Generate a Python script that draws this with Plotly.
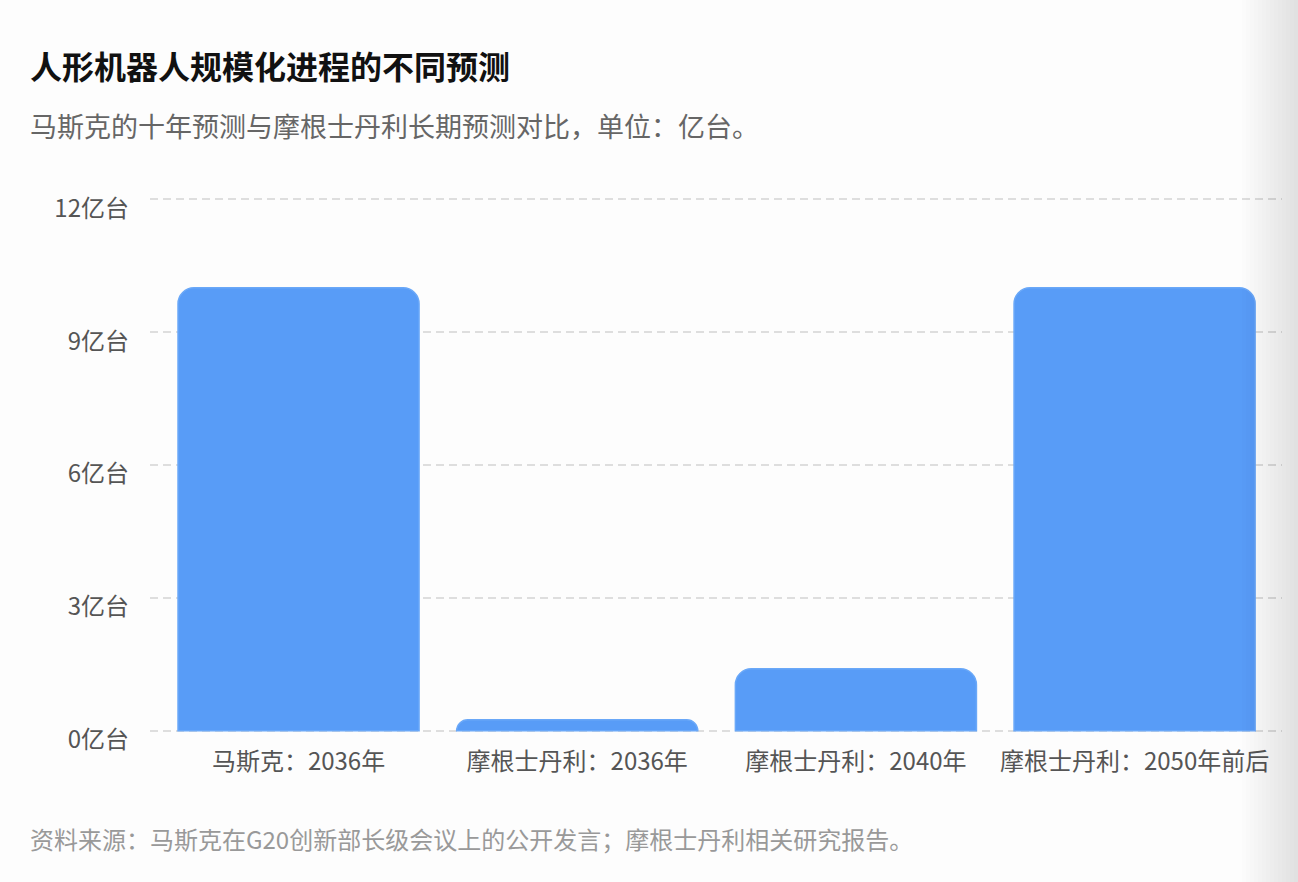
import plotly.graph_objects as go

categories = ['马斯克：2036年', '摩根士丹利：2036年', '摩根士丹利：2040年', '摩根士丹利：2050年前后']
values = [10, 0.25, 1.4, 10]
y_ticks = [0, 3, 6, 9, 12]
y_tick_text = [f'{v}亿台' for v in y_ticks]

FONT = 'Noto Sans CJK SC'
W, H = 1298, 882
L, R, T, B = 150, 16, 197, 149
PW, PH = W - L - R, H - T - B


def px_x(x):
    return (x - L) / PW


def px_y(y):
    return (H - B - y) / PH


fig = go.Figure(go.Bar(
    x=categories, y=values,
    marker=dict(color='#589cf7', line=dict(color='#6aa8f8', width=1.5)),
    hovertemplate='%{x}<br>%{y}亿台<extra></extra>',
))

fig.update_layout(
    width=W, height=H,
    margin=dict(l=L, r=R, t=T, b=B),
    paper_bgcolor='#fdfdfd', plot_bgcolor='#fdfdfd',
    font=dict(family=FONT, color='#555555', size=24),
    bargap=0.135, barcornerradius=16,
    showlegend=False,
)
fig.update_xaxes(range=[-0.533, 3.529], showgrid=False, showline=False, ticks='',
                 ticklabelstandoff=12, tickfont=dict(size=24, color='#555555'))
fig.update_yaxes(
    range=[-0.05, 12.05], tickvals=y_ticks, ticktext=y_tick_text,
    showgrid=True, gridcolor='#dedede', griddash='8px,5px', gridwidth=1.5,
    zeroline=False, showline=False, ticklabelstandoff=20, ticklabelshift=9,
    tickfont=dict(size=24, color='#555555'),
)

fig.add_annotation(text='<b>人形机器人规模化进程的不同预测</b>', xref='paper', yref='paper',
                   x=px_x(28), y=px_y(65), xanchor='left', yanchor='middle',
                   showarrow=False, font=dict(size=32, color='#111111', family=FONT))
fig.add_annotation(text='马斯克的十年预测与摩根士丹利长期预测对比，单位：亿台。', xref='paper', yref='paper',
                   x=px_x(28), y=px_y(125), xanchor='left', yanchor='middle',
                   showarrow=False, font=dict(size=27, color='#666666', family=FONT))
fig.add_annotation(text='资料来源：马斯克在G20创新部长级会议上的公开发言；摩根士丹利相关研究报告。', xref='paper', yref='paper',
                   x=px_x(28), y=px_y(838), xanchor='left', yanchor='middle',
                   showarrow=False, font=dict(size=24, color='#999999', family=FONT))

# soft shadow on the right edge of the card
steps = 14
for i in range(steps):
    x0 = 1242 + i * 4
    fig.add_shape(type='rect', xref='paper', yref='paper',
                  x0=px_x(x0), x1=px_x(W + 2), y0=px_y(H + 2), y1=px_y(-2),
                  fillcolor='rgba(0,0,0,0.008)', line=dict(width=0), layer='above')

fig.write_html('out.html', config={'displayModeBar': False},
               post_script="document.body.style.margin='0';")
